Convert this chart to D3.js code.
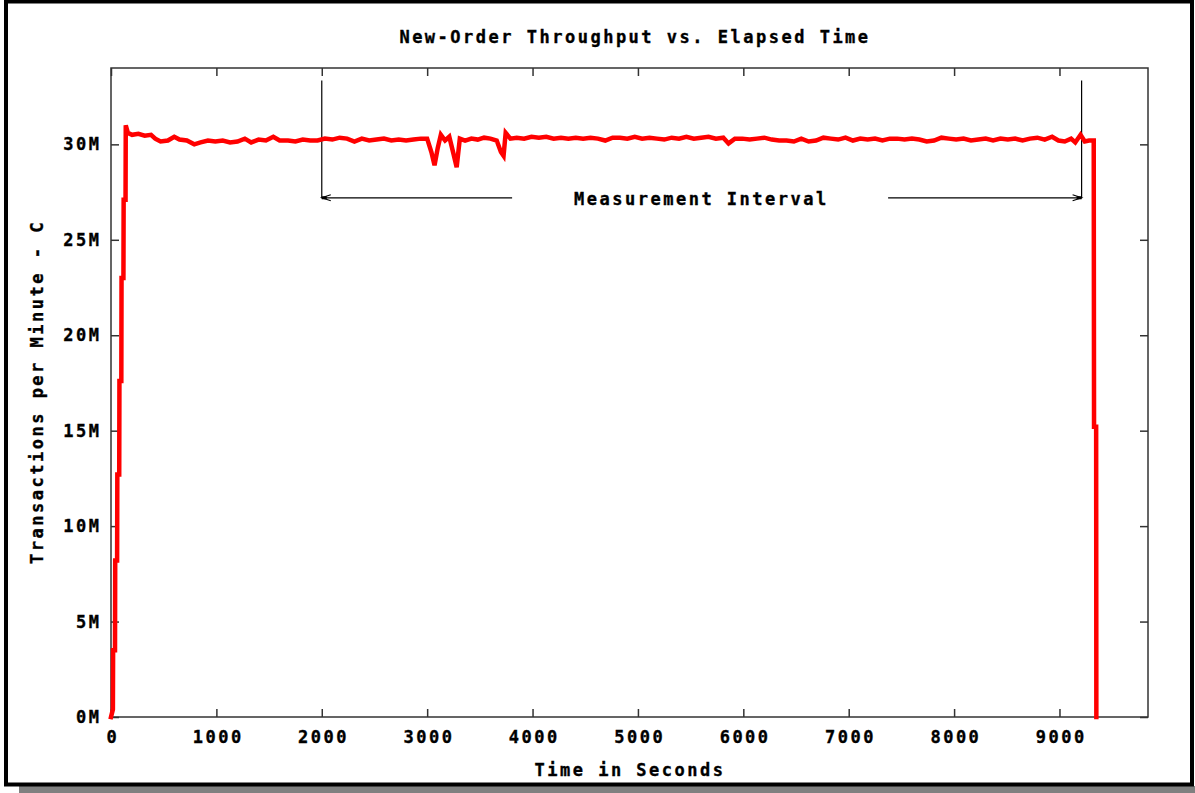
<!DOCTYPE html>
<html>
<head>
<meta charset="utf-8">
<script src="https://cdn.jsdelivr.net/npm/d3@7"></script>
<style>
  html, body { margin: 0; padding: 0; background: #fff; }
  text { font-family: "DejaVu Sans Mono", "Liberation Mono", monospace; font-weight: bold; fill: #000; stroke: #000; stroke-width: 0.35px; }
</style>
</head>
<body>
<svg id="chartArea"></svg>
<script>
// elapsed seconds and new-order throughput (millions of tpmC)
const times = [
  0, 18, 20, 38, 40, 58, 60, 78, 80, 98, 100, 118, 120, 138, 140, 160, 200, 260, 320, 380, 420, 470, 540, 600, 650, 720,
  790, 850, 920, 990, 1060, 1130, 1200, 1270, 1330, 1400, 1470, 1540, 1600, 1680, 1750, 1820, 1890, 1960, 2030, 2100,
  2170, 2240, 2310, 2380, 2450, 2520, 2590, 2660, 2730, 2800, 2870, 2940, 3000, 3040, 3070, 3100, 3130, 3170, 3210, 3250,
  3280, 3310, 3360, 3420, 3480, 3540, 3600, 3660, 3700, 3725, 3745, 3790, 3850, 3920, 3990, 4060, 4130, 4200, 4270, 4340,
  4410, 4480, 4550, 4620, 4690, 4760, 4830, 4900, 4970, 5040, 5110, 5180, 5250, 5320, 5390, 5460, 5530, 5600, 5670, 5740,
  5810, 5860, 5920, 5990, 6060, 6130, 6200, 6270, 6340, 6410, 6480, 6550, 6620, 6690, 6760, 6830, 6900, 6970, 7040, 7110,
  7180, 7250, 7320, 7390, 7460, 7530, 7600, 7670, 7740, 7810, 7880, 7950, 8020, 8090, 8160, 8230, 8300, 8370, 8440, 8510,
  8580, 8650, 8720, 8790, 8860, 8930, 8990, 9050, 9110, 9150, 9200, 9240, 9280, 9325, 9328, 9348, 9350
];
const tpm = [
  0, 0.4, 3.5, 3.5, 8.2, 8.2, 12.7, 12.7, 17.6, 17.6, 23.0, 23.0, 27.1, 27.1, 31.0, 30.6, 30.5, 30.55, 30.45, 30.5, 30.3, 30.15, 30.2, 30.4, 30.25, 30.2,
  30.0, 30.1, 30.2, 30.15, 30.2, 30.1, 30.15, 30.3, 30.1, 30.25, 30.2, 30.4, 30.2, 30.2, 30.15, 30.25, 30.2, 30.2, 30.3, 30.25,
  30.35, 30.3, 30.15, 30.3, 30.2, 30.25, 30.3, 30.2, 30.25, 30.2, 30.25, 30.3, 30.3, 29.6, 28.9, 29.8, 30.5, 30.2, 30.4, 29.5,
  28.8, 30.3, 30.2, 30.3, 30.25, 30.35, 30.3, 30.2, 29.6, 29.4, 30.6, 30.3, 30.35, 30.3, 30.4, 30.35, 30.4, 30.3, 30.35, 30.3,
  30.35, 30.3, 30.35, 30.3, 30.2, 30.35, 30.35, 30.3, 30.4, 30.3, 30.35, 30.3, 30.25, 30.35, 30.3, 30.4, 30.3, 30.35, 30.4, 30.3,
  30.35, 30.05, 30.3, 30.3, 30.25, 30.3, 30.35, 30.25, 30.2, 30.2, 30.15, 30.3, 30.15, 30.2, 30.35, 30.3, 30.25, 30.35, 30.2, 30.3,
  30.25, 30.3, 30.2, 30.3, 30.3, 30.25, 30.3, 30.25, 30.15, 30.2, 30.35, 30.3, 30.25, 30.3, 30.2, 30.25, 30.3, 30.2, 30.3, 30.25,
  30.3, 30.2, 30.3, 30.35, 30.25, 30.4, 30.2, 30.15, 30.3, 30.1, 30.5, 30.15, 30.2, 30.2, 15.2, 15.2, 0
];
const xTicks = [0, 1000, 2000, 3000, 4000, 5000, 6000, 7000, 8000, 9000];
const yTicks = [0, 5, 10, 15, 20, 25, 30];
const intervalTimes = [2000, 9210];
const intervalLabel = "Measurement Interval";

const width = 1195,
  height = 793,
  margin = { left: 111, right: 47, top: 68, bottom: 76 },
  tickLen = 8,
  fontSize = "17px",
  spacing = "2.5px";

const svg = d3.select("#chartArea").attr("width", width).attr("height", height);

// outer frame with drop shadow
svg.append("rect")
  .attr("x", 19).attr("y", 786).attr("width", width - 19).attr("height", 7)
  .attr("fill", "#808080");
svg.append("rect")
  .attr("x", 6).attr("y", 1.5).attr("width", 1186).attr("height", 783)
  .attr("fill", "#fff").attr("stroke", "#000").attr("stroke-width", 4);

const xScale = d3.scaleLinear()
  .domain([0, 9840])
  .range([margin.left, width - margin.right]);
const yScale = d3.scaleLinear()
  .domain([0, 34])
  .range([height - margin.bottom, margin.top]);

const axisColor = "#333";

// axes with inward ticks, mirrored on top and right
const xAxis = d3.axisBottom(xScale).tickValues(xTicks).tickSize(-tickLen).tickPadding(14).tickFormat(d3.format("d"));
const xAxisTop = d3.axisTop(xScale).tickValues(xTicks).tickSize(-tickLen).tickFormat("");
const yAxis = d3.axisLeft(yScale).tickValues(yTicks).tickSize(-tickLen).tickPadding(12).tickFormat(d => d + "M");
const yAxisRight = d3.axisRight(yScale).tickValues(yTicks).tickSize(-tickLen).tickFormat("");

function styleAxis(g) {
  g.select(".domain").remove();
  g.selectAll(".tick line").attr("stroke", axisColor).attr("stroke-width", 1.5);
  g.selectAll(".tick text")
    .attr("fill", "#000")
    .style("font-size", fontSize)
    .style("letter-spacing", spacing);
}

svg.append("g")
  .attr("transform", "translate(0," + yScale(0) + ")")
  .call(xAxis).call(styleAxis)
  .selectAll(".tick text").attr("dx", "1.3px");
svg.append("g")
  .attr("transform", "translate(0," + yScale(34) + ")")
  .call(xAxisTop).call(styleAxis);
svg.append("g")
  .attr("transform", "translate(" + xScale(0) + ",0)")
  .call(yAxis).call(styleAxis)
  .selectAll(".tick text").attr("dx", "2.5px");
svg.append("g")
  .attr("transform", "translate(" + xScale(9840) + ",0)")
  .call(yAxisRight).call(styleAxis);

// plot border
svg.append("rect")
  .attr("x", xScale(0)).attr("y", yScale(34))
  .attr("width", xScale(9840) - xScale(0)).attr("height", yScale(0) - yScale(34))
  .attr("fill", "none").attr("stroke", axisColor).attr("stroke-width", 1.5);

// measurement interval markers
const arrowLevel = 27.2, markTop = 33.35;
intervalTimes.forEach(t => {
  svg.append("line")
    .attr("x1", xScale(t)).attr("x2", xScale(t))
    .attr("y1", yScale(markTop)).attr("y2", yScale(arrowLevel))
    .attr("stroke", "#000").attr("stroke-width", 1.2);
});
const midT = 5590;
const labelHalf = 188;
const ay = yScale(arrowLevel);
svg.append("line")
  .attr("x1", xScale(intervalTimes[0])).attr("x2", xScale(midT) - labelHalf)
  .attr("y1", ay).attr("y2", ay)
  .attr("stroke", "#000").attr("stroke-width", 1.2);
svg.append("line")
  .attr("x1", xScale(midT) + labelHalf).attr("x2", xScale(intervalTimes[1]))
  .attr("y1", ay).attr("y2", ay)
  .attr("stroke", "#000").attr("stroke-width", 1.2);
[[intervalTimes[0], 1], [intervalTimes[1], -1]].forEach(([t, dir]) => {
  const x0 = xScale(t);
  svg.append("path")
    .attr("d", "M" + (x0 + dir * 9) + "," + (ay - 3) + "L" + x0 + "," + ay + "L" + (x0 + dir * 9) + "," + (ay + 3))
    .attr("fill", "none").attr("stroke", "#000").attr("stroke-width", 1.2);
  svg.append("line")
    .attr("x1", x0).attr("x2", x0 + dir * 5).attr("y1", ay).attr("y2", ay)
    .attr("stroke", "#000").attr("stroke-width", 3);
});
svg.append("text")
  .attr("x", xScale(midT) + 1.3).attr("y", ay + 7.5)
  .attr("text-anchor", "middle")
  .style("font-size", fontSize).style("letter-spacing", spacing)
  .text(intervalLabel);

// throughput line
const points = times.map((t, i) => [t, tpm[i]]);
const line = d3.line().x(d => xScale(d[0])).y(d => yScale(d[1]));
svg.append("path")
  .datum(points)
  .attr("d", line)
  .attr("fill", "none")
  .attr("stroke", "#ff0000")
  .attr("stroke-width", 4.5)
  .attr("stroke-linejoin", "miter")
  .attr("stroke-linecap", "square");

// titles
svg.append("text")
  .attr("x", 635).attr("y", 43)
  .attr("text-anchor", "middle")
  .style("font-size", fontSize).style("letter-spacing", spacing)
  .text("New-Order Throughput vs. Elapsed Time");
svg.append("text")
  .attr("x", 630).attr("y", 776)
  .attr("text-anchor", "middle")
  .style("font-size", fontSize).style("letter-spacing", spacing)
  .text("Time in Seconds");
svg.append("text")
  .attr("transform", "translate(43,392) rotate(-90)")
  .attr("text-anchor", "middle")
  .style("font-size", fontSize).style("letter-spacing", spacing)
  .text("Transactions per Minute - C");
</script>
</body>
</html>
